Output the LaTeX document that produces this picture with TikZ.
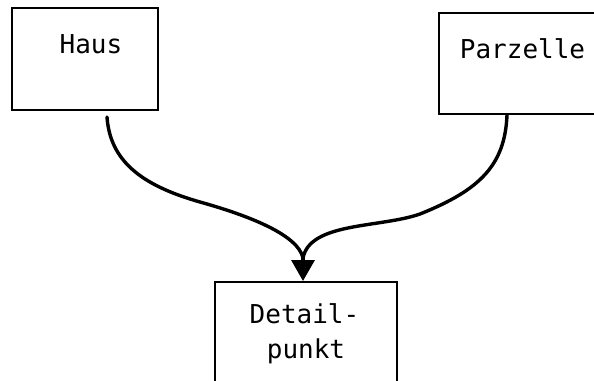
\documentclass[tikz,border=0pt]{standalone}
\usepackage{fontspec}
\setmonofont{DejaVu Sans Mono}
\usetikzlibrary{arrows.meta}
\begin{document}
\begin{tikzpicture}[x=1pt,y=-1pt,
  box/.style={draw,line width=1.8pt,inner sep=0pt},
  lbl/.style={font=\ttfamily\fontsize{26}{35}\selectfont,inner sep=0pt,anchor=base},
  flow/.style={line width=3.4pt,line cap=round,line join=round}]
\useasboundingbox (0,0) rectangle (594,380);
\clip (0,0) rectangle (594,380);
\node[box,minimum width=146pt,minimum height=102pt] (haus) at (85,59) {};
\node[lbl] (hauslbl) at (91,53) {Haus};
\node[box,minimum width=161pt,minimum height=101pt] (parz) at (519.5,63.5) {};
\node[lbl] (parzlbl) at (522.5,58) {Parzelle};
\node[box,minimum width=182pt,minimum height=118pt] (detail) at (306,341) {};
\node[lbl] (detaillbl) at (304.5,323) {Detail-};
\node[lbl] (punktlbl) at (306,358) {punkt};
\coordinate (hs) at (107,117);
\coordinate (ps) at (507,115);
\coordinate (join) at (303,258);
\coordinate (tip) at (303,281);
\draw[flow] (hs) .. controls (110,160) and (140,185) .. (200,202)
  .. controls (250,216) and (298,235) .. (join);
\draw[flow] (ps) .. controls (505,165) and (480,190) .. (420,214)
  .. controls (380,228) and (310,222) .. (join);
\draw[flow,-{Triangle[length=21pt,width=23pt]}] (join) -- (tip);
\end{tikzpicture}
\end{document}
